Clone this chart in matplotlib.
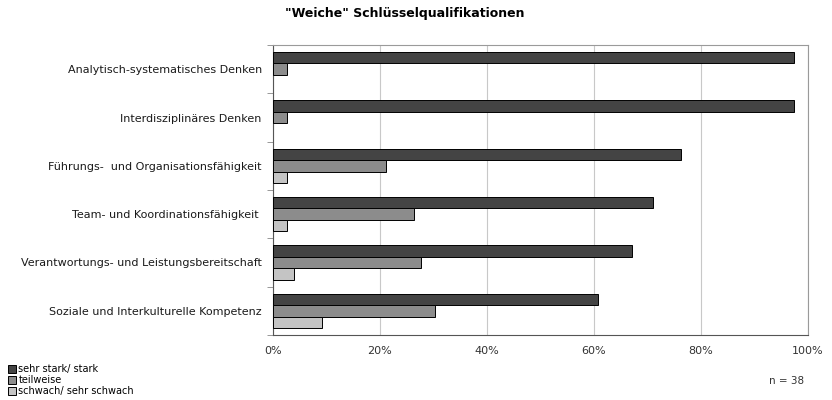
# "Weiche" Schlüsselqualifikationen - grouped horizontal bar chart
import matplotlib

matplotlib.use("Agg")
import matplotlib.pyplot as plt
import numpy as np

plt.rcParams["font.family"] = ["DejaVu Sans"]

categories = [
    "Analytisch-systematisches Denken",
    "Interdisziplinäres Denken",
    "Führungs-  und Organisationsfähigkeit",
    "Team- und Koordinationsfähigkeit ",
    "Verantwortungs- und Leistungsbereitschaft",
    "Soziale und Interkulturelle Kompetenz",
]
series_names = ["sehr stark/ stark", "teilweise", "schwach/ sehr schwach"]
sehr_stark = [97.4, 97.4, 76.3, 71.1, 67.2, 60.7]
teilweise = [2.6, 2.6, 21.1, 26.3, 27.7, 30.3]
schwach = [0.0, 0.0, 2.6, 2.6, 4.0, 9.2]
x_ticks = [0, 20, 40, 60, 80, 100]
title = '"Weiche" Schlüsselqualifikationen'
note = "n = 38"

colors = ["#444444", "#8c8c8c", "#c4c4c4"]

fig = plt.figure(figsize=(8.32, 4.0), dpi=100)
ax = fig.add_axes([0.328, 0.1625, 0.643, 0.725])

y = np.arange(len(categories))
h = 0.235
for k, (vals, name, col) in enumerate(zip([sehr_stark, teilweise, schwach], series_names, colors)):
    vals = np.array(vals)
    keep = vals > 0  # Excel draws nothing for empty values
    ax.barh(y[keep] + (k - 1) * h + 0.0, vals[keep], h, color=col, edgecolor="black",
            linewidth=0.7, label=name, zorder=3)

ax.set_xlim(0, 100)
ax.set_ylim(len(categories) - 0.5, -0.5)
ax.set_xticks(x_ticks)
ax.set_xticklabels([f"{v}%" for v in x_ticks], fontsize=8, color="#333333")
ax.set_yticks(y)
ax.set_yticklabels(categories, fontsize=8, color="#1a1a1a")
ax.set_yticks(np.arange(len(categories) + 1) - 0.5, minor=True)
ax.tick_params(axis="y", which="major", length=0, pad=8)
ax.tick_params(axis="y", which="minor", length=4, color="#888888", direction="out")
ax.tick_params(axis="x", length=0, pad=8)
ax.grid(axis="x", color="#c8c8c8", linewidth=0.8, zorder=0)
for s in ax.spines.values():
    s.set_color("#9a9a9a")
    s.set_linewidth(0.8)
ax.spines["left"].set_color("#555555")
ax.spines["bottom"].set_color("#555555")

fig.text(0.487, 0.965, title, ha="center", va="center", fontsize=9, fontweight="bold")
fig.text(0.945, 0.047, note, ha="center", va="center", fontsize=7.5, color="#333333")

fig.legend(loc="lower left", bbox_to_anchor=(0.0, -0.01), frameon=False, fontsize=7,
           handlelength=0.8, handleheight=0.8, handletextpad=0.3, labelspacing=0.1,
           borderpad=0.3)

fig.savefig("out.png", dpi=100, facecolor="white")
